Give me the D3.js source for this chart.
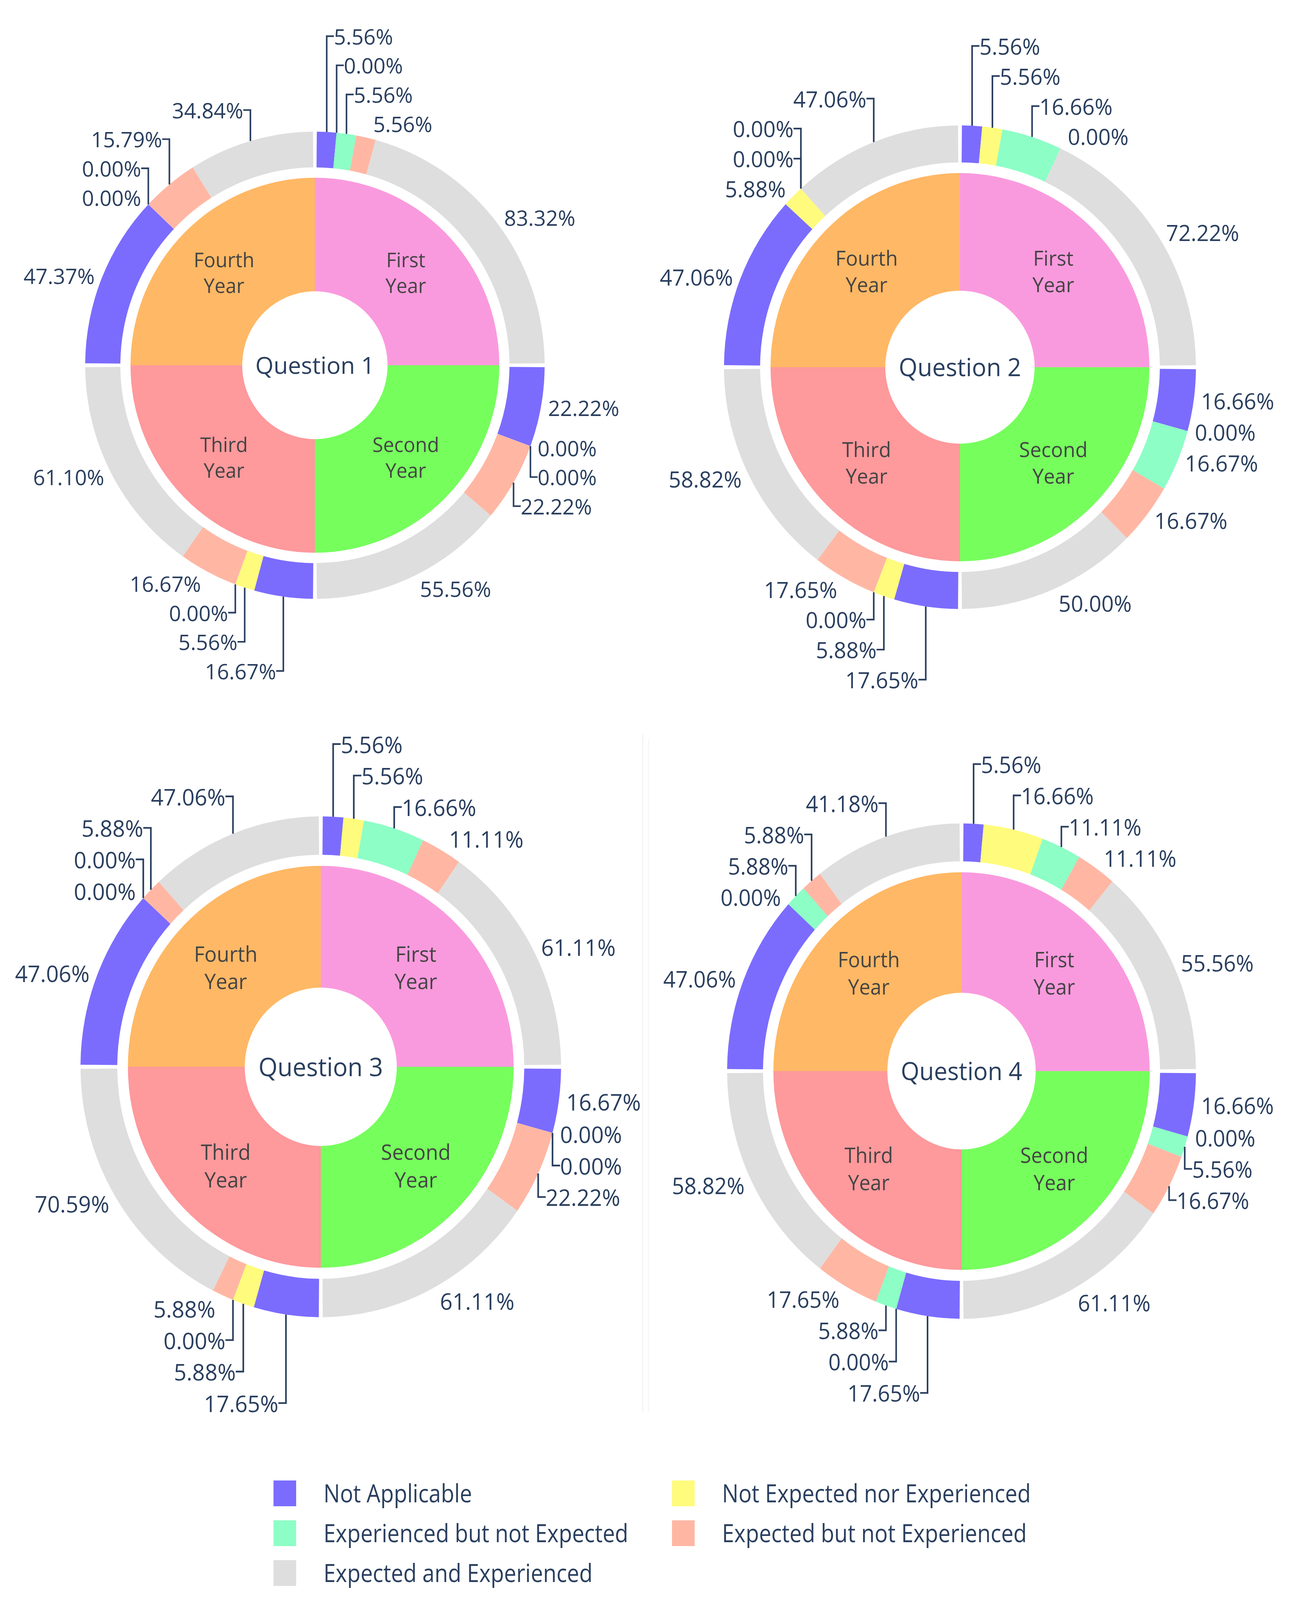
<!DOCTYPE html>
<html>
<head>
<meta charset="utf-8">
<script src="https://cdn.jsdelivr.net/npm/d3@7"></script>
<style>
  html, body { margin: 0; padding: 0; background: #ffffff; }
  svg { display: block; font-family: "Open Sans", "Noto Sans", sans-serif; }
</style>
</head>
<body>
<svg id="chart" width="3335" height="4117"></svg>
<script>
// ---------------- DATA ----------------
const categories = ["Not Applicable", "Not Expected nor Experienced", "Experienced but not Expected", "Expected but not Experienced", "Expected and Experienced"];
const categoryColors = ["#7b6cfe", "#fffb7c", "#8dfec6", "#ffb7a4", "#dedede"];
const years = ["First Year", "Second Year", "Third Year", "Fourth Year"];
const yearColors = ["#fa9ade", "#76fe5d", "#fe999c", "#ffb865"];
const yearWeights = [1, 1, 1, 1];
const questions = ["Question 1", "Question 2", "Question 3", "Question 4"];

// values[year][category] in percent
const q1Values = [[5.56, 0.00, 5.56, 5.56, 83.32], [22.22, 0.00, 0.00, 22.22, 55.56], [16.67, 5.56, 0.00, 16.67, 61.10], [47.37, 0.00, 0.00, 15.79, 34.84]];
const q2Values = [[5.56, 5.56, 16.66, 0.00, 72.22], [16.66, 0.00, 16.67, 16.67, 50.00], [17.65, 5.88, 0.00, 17.65, 58.82], [47.06, 5.88, 0.00, 0.00, 47.06]];
const q3Values = [[5.56, 5.56, 16.66, 11.11, 61.11], [16.67, 0.00, 0.00, 22.22, 61.11], [17.65, 5.88, 0.00, 5.88, 70.59], [47.06, 0.00, 0.00, 5.88, 47.06]];
const q4Values = [[5.56, 16.66, 11.11, 11.11, 55.56], [16.66, 0.00, 5.56, 16.67, 61.11], [17.65, 0.00, 5.88, 17.65, 58.82], [47.06, 0.00, 5.88, 5.88, 41.18]];
const allValues = [q1Values, q2Values, q3Values, q4Values];

// ---------------- LAYOUT ----------------
const chartLayout = [
  { cx: 806,  cy: 935,  rx: 588, ry: 598 },
  { cx: 2457, cy: 940,  rx: 604, ry: 619 },
  { cx: 821,  cy: 2731, rx: 615, ry: 641 },
  { cx: 2461, cy: 2742, rx: 600, ry: 634 }
];
const R0 = 588, RI0 = 498, P0 = 472, H0 = 186, GAP = 9;
const pctFont = 54, innerFont = 50, titleFont = 60;
const textColor = "#2a3f5f";
const fmt = v => d3.format(".2f")(v) + "%";

const svg = d3.select("#chart");
const outerArc = d3.arc().innerRadius(RI0).outerRadius(R0);
const innerArc = d3.arc().innerRadius(H0).outerRadius(P0);
const innerPie = d3.pie().sort(null).value(d => d);
const padA = (GAP / 2) / ((R0 + RI0) / 2);

// faint panel separator lines
svg.append("line").attr("x1", 1645).attr("x2", 1645).attr("y1", 1880).attr("y2", 3615)
  .attr("stroke", "#f4f4f4").attr("stroke-width", 3);
svg.append("line").attr("x1", 1660).attr("x2", 1660).attr("y1", 1893).attr("y2", 3615)
  .attr("stroke", "#f6f6f6").attr("stroke-width", 3);

allValues.forEach((vals, qi) => {
  const L = chartLayout[qi];
  const g = svg.append("g")
    .attr("transform", `translate(${L.cx},${L.cy}) scale(${L.rx / R0},${L.ry / R0})`);

  // inner pie (years)
  const inner = innerPie(yearWeights);
  g.selectAll("path.inner").data(inner).join("path")
    .attr("class", "inner")
    .attr("d", innerArc)
    .attr("fill", (d, i) => yearColors[i]);

  inner.forEach((d, i) => {
    const [x, y] = innerArc.centroid(d);
    const words = years[i].split(" ");
    const t = g.append("text").attr("text-anchor", "middle")
      .attr("font-size", innerFont).attr("fill", "#444444");
    words.forEach((w, j) => {
      t.append("tspan").attr("x", x)
        .attr("y", y + (j - (words.length - 1) / 2) * innerFont * 1.3 + innerFont * 0.36)
        .text(w);
    });
  });

  // center title
  g.append("text").attr("text-anchor", "middle")
    .attr("x", 0).attr("y", titleFont * 0.36)
    .attr("font-size", titleFont).attr("fill", textColor)
    .text(questions[qi]);

  // outer ring slices
  const pts = [];
  vals.forEach((yv, yi) => {
    const a0 = yi * Math.PI / 2 + padA, a1 = (yi + 1) * Math.PI / 2 - padA;
    const arcs = d3.pie().sort(null).value(d => d).startAngle(a0).endAngle(a1)(yv);
    arcs.forEach((d, ci) => pts.push({ d: d, ci: ci, yi: yi, v: yv[ci] }));
  });

  g.selectAll("path.outer").data(pts).join("path")
    .attr("class", "outer")
    .attr("d", p => outerArc(p.d))
    .attr("fill", p => categoryColors[p.ci]);

  // outside labels (plotly-like placement)
  const lineLayer = g.append("g");
  const textLayer = g.append("g");
  const quadrants = [[[], []], [[], []]];
  pts.forEach(p => {
    const mid = (p.d.startAngle + p.d.endAngle) / 2;
    const x = R0 * Math.sin(mid), y = -R0 * Math.cos(mid);
    p.pxmid = [x, y];
    const t = textLayer.append("text").attr("text-anchor", "middle")
      .attr("font-size", pctFont).attr("fill", textColor)
      .attr("x", 0).attr("y", 0).text(fmt(p.v));
    const bb = t.node().getBBox();
    p.textEl = t; p.bb = bb;
    let dx = bb.width / 2, dy = bb.height / 2;
    if (x < 0) dx *= -1;
    if (y < 0) dy *= -1;
    const tx = dx + Math.abs(dy) * (dx > 0 ? 1 : -1) / 2;
    const ty = (y === 0) ? 0 : dy / (1 + x * x / (y * y));
    p.cxT = x + tx;
    p.yLabelMid = y + ty;
    p.yLabelMin = p.yLabelMid - bb.height / 2;
    p.yLabelMax = p.yLabelMid + bb.height / 2;
    p.labelExtraY = 0;
    quadrants[y < 0 ? 0 : 1][x < 0 ? 0 : 1].push(p);
  });

  // scoot labels
  for (let yHalf = 0; yHalf < 2; yHalf++) {
    const equatorFirst = yHalf ? (a, b) => a.pxmid[1] - b.pxmid[1] : (a, b) => b.pxmid[1] - a.pxmid[1];
    const yDiffSign = yHalf ? 1 : -1;
    for (let xHalf = 0; xHalf < 2; xHalf++) {
      const thisQuad = quadrants[yHalf][xHalf];
      thisQuad.sort(equatorFirst);
      const oppositeQuad = quadrants[1 - yHalf][xHalf];
      const firstOpp = (yHalf && oppositeQuad.length) ? oppositeQuad[0] : null;
      for (let i = 0; i < thisQuad.length; i++) {
        let prev = i ? thisQuad[i - 1] : null;
        if (firstOpp && !i) prev = firstOpp;
        if (!prev) continue;
        const pt = thisQuad[i];
        const prevOuterY = prev.labelExtraY + (yHalf ? prev.yLabelMax : prev.yLabelMin);
        const thisInnerY = yHalf ? pt.yLabelMin : pt.yLabelMax;
        const newExtraY = prevOuterY - thisInnerY;
        if (newExtraY * yDiffSign > 0) pt.labelExtraY = newExtraY;
      }
    }
  }

  pts.forEach(p => {
    const cyT = p.yLabelMid + p.labelExtraY;
    p.textEl.attr("x", p.cxT).attr("y", cyT - (p.bb.y + p.bb.height / 2));
    if (p.labelExtraY) {
      const finalX = (p.yLabelMax - p.yLabelMin) * (p.pxmid[0] < 0 ? -1 : 1) / 4;
      const path = `M${p.pxmid[0]},${p.pxmid[1]}V${cyT}h${finalX}`;
      lineLayer.append("path").attr("d", path)
        .attr("fill", "none").attr("stroke", textColor).attr("stroke-width", 4);
    }
  });
});

// ---------------- LEGEND ----------------
const legendCols = [700, 1720];
const legendRows = [3823, 3925, 4027];
const legendFont = 56, legendStretch = 1.15;
const legend = svg.append("g");
categories.forEach((c, i) => {
  const col = i % 2, row = Math.floor(i / 2);
  const x = legendCols[col], y = legendRows[row];
  legend.append("rect").attr("x", x).attr("y", y - 33).attr("width", 58).attr("height", 66)
    .attr("fill", categoryColors[i]);
  legend.append("text")
    .attr("transform", `translate(${x + 128},${y}) scale(1,${legendStretch})`)
    .attr("y", legendFont * 0.355)
    .attr("font-size", legendFont).attr("fill", textColor)
    .text(c);
});
</script>
</body>
</html>
